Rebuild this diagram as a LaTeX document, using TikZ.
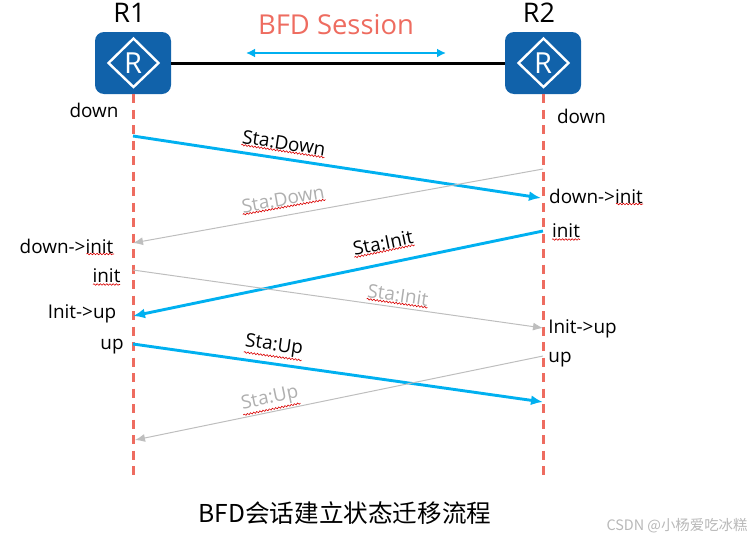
\documentclass[tikz,border=0pt]{standalone}
\usepackage{fontspec}
\setmainfont{Open Sans}
\newfontfamily\cjkfont{Noto Sans CJK SC}
\usetikzlibrary{arrows.meta,decorations.pathmorphing}
\definecolor{lifered}{RGB}{238,108,96}
\definecolor{msgblue}{RGB}{0,176,240}
\definecolor{msggray}{RGB}{190,190,190}
\definecolor{labgray}{RGB}{175,175,175}
\definecolor{routerblue}{RGB}{17,98,170}
\tikzset{
  x=1pt,y=-1pt,
  router/.style={draw=none,fill=routerblue,rounded corners=9pt,minimum width=76pt,minimum height=62pt,inner sep=0pt},
  diam/.style={draw=white,line width=2.4pt,line join=miter},
  lifeline/.style={draw=lifered,line width=3pt,dash pattern=on 9pt off 6.5pt},
  msgbig/.style={draw=msgblue,line width=2.9pt,-{Latex[length=12pt,width=10pt]}},
  msgthin/.style={draw=msggray,line width=1pt,-{Latex[length=10pt,width=8pt]}},
  state/.style={inner sep=0pt,font=\fontsize{18.9}{21}\selectfont,text=black},
  msglab/.style={inner sep=0pt,font=\fontsize{18.9}{21}\selectfont},
  squig/.style={draw=red!85!black,line width=.6pt,decorate,decoration={snake,amplitude=.8pt,segment length=3.2pt}},
}
\begin{document}
\begin{tikzpicture}
\useasboundingbox (0,0) rectangle (755,541);
% routers
\node[router] (r1) at (133,63) {};
\node[router] (r2) at (543,63) {};
\draw[diam] (133.5,38.5) -- (158.5,63) -- (133.5,87) -- (108.5,63) -- cycle;
\draw[diam] (543.5,38.5) -- (568.5,63) -- (543.5,87) -- (518.5,63) -- cycle;
\node[inner sep=0pt,text=white,font=\fontsize{29}{31}\selectfont] at (133,63) {R};
\node[inner sep=0pt,text=white,font=\fontsize{29}{31}\selectfont] at (543,63) {R};
\node[inner sep=0pt,font=\fontsize{27}{29}\selectfont] (n1) at (129.5,12.5) {R1};
\node[inner sep=0pt,font=\fontsize{27}{29}\selectfont] (n2) at (539,12.5) {R2};
\draw[black,line width=3pt] (r1) -- (r2);
\coordinate (sl) at (246,53);
\coordinate (sr) at (446,53);
\draw[msgblue,line width=2.2pt,{Latex[length=9pt,width=9pt]}-{Latex[length=9pt,width=9pt]}] (sl) -- (sr);
\node[inner sep=0pt,text=lifered,font=\fontsize{27.4}{30}\selectfont] (sess) at (336,25) {BFD Session};
% lifelines
\coordinate (l1e) at (133,475);
\coordinate (l2e) at (543,475);
\draw[lifeline] (r1.south) -- (l1e);
\draw[lifeline] (r2.south) -- (l2e);
% message end points
\coordinate (a1) at (133,136);  \coordinate (b1) at (541,198);
\coordinate (a2) at (543,169);  \coordinate (b2) at (133,243);
\coordinate (a3) at (543,231);  \coordinate (b3) at (133,316);
\coordinate (a4) at (133,270);  \coordinate (b4) at (543,328);
\coordinate (a5) at (133,344);  \coordinate (b5) at (543,402);
\coordinate (a6) at (543,356);  \coordinate (b6) at (135,440);
\draw[msgbig] (a1) -- (b1);
\draw[msgthin] (a2) -- (b2);
\draw[msgbig] (a3) -- (b3);
\draw[msgthin] (a4) -- (b4);
\draw[msgbig] (a5) -- (b5);
\draw[msgthin] (a6) -- (b6);
% message labels
\node[msglab,rotate=-8.6,text=black] (m1) at (284,143) {Sta:Down};
\node[msglab,rotate=10.2,text=labgray] (m2) at (283,199) {Sta:Down};
\node[msglab,rotate=11.7,text=black] (m3) at (383,243) {Sta:Init};
\node[msglab,rotate=-8,text=labgray] (m4) at (398,295) {Sta:Init};
\node[msglab,rotate=-8,text=black] (m5) at (274,346) {Sta:Up};
\node[msglab,rotate=11.7,text=labgray] (m6) at (270,399) {Sta:Up};
\foreach \m in {m1,m2,m3,m4,m5,m6}{
  \draw[squig] ([yshift=-1pt]\m.south west) -- ([yshift=-1pt]\m.south east);
}
% state labels
\node[state] (s1) at (94,110) {down};
\node[state] (s2) at (581.5,116) {down};
\node[state] (s3) at (596,196) {down->init};
\node[state] (s4) at (66.5,246) {down->init};
\node[state] (s5) at (566,231) {init};
\node[state] (s6) at (106.5,276) {init};
\node[state] (s7) at (82,314) {Init->up};
\node[state] (s8) at (582.5,329) {Init->up};
\node[state] (s9) at (112,347) {up};
\node[state] (s10) at (560,360) {up};
\draw[squig] (86.5,254) -- (114,254);
\draw[squig] (616,204) -- (643,204);
\draw[squig] (552,239.5) -- (580,239.5);
\draw[squig] (93,284.5) -- (120,284.5);
% title and watermark
\node[inner sep=0pt,font=\fontsize{24.6}{27}\selectfont\cjkfont] (title) at (345,513) {BFD会话建立状态迁移流程};
\node[inner sep=0pt,text=black!28,font=\fontsize{14.4}{16}\selectfont\cjkfont] (wm) at (677,526) {CSDN @小杨爱吃冰糕};
\end{tikzpicture}
\end{document}
